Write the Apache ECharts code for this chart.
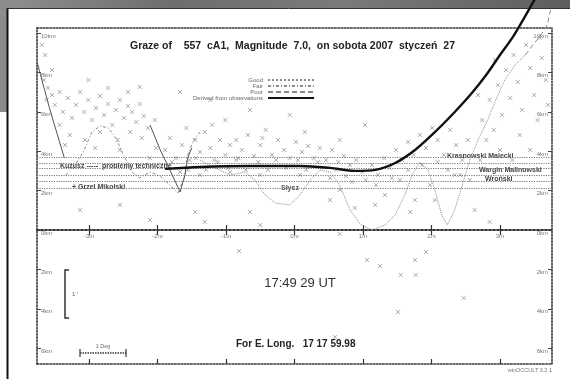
<!DOCTYPE html>
<html><head><meta charset="utf-8">
<script src="https://cdn.jsdelivr.net/npm/echarts@6/dist/echarts.min.js"></script>
<style>html,body{margin:0;padding:0;background:#fff}#c{width:570px;height:379px}</style>
</head><body><div id="c"></div>
<script>
// time axis (minutes from central time) and km scale
const timeTicks = [-3, -2, -1, 0, 1, 2, 3];
const timeTickLabels = ['-3m', '-2m', '-1m', '0m', '1m', '2m', '3m'];
const kmTicks = [10, 8, 6, 4, 2, 0, -2, -4, -6];
const kmTickLabels = ['10km', '8km', '6km', '4km', '2km', '0km', '2km', '4km', '6km'];

// observer limit lines (km)
const limitHeights = [3.7, 3.4, 3.15, 2.8, 2.45, 2.1];

// observed / predicted events [minutes, km]
const observedPoints = [
  [-3.66,7.61],[-3.60,7.21],[-3.54,6.85],[-3.62,6.60],[-3.50,6.35],[-3.43,7.0],[-3.38,5.99],[-3.31,6.70],
  [-3.25,5.69],[-3.19,6.35],[-3.13,7.0],[-3.07,5.99],[-3.01,6.60],[-2.96,5.58],[-2.90,6.19],[-2.84,6.80],
  [-2.78,5.84],[-2.72,6.40],[-2.66,5.33],[-2.61,6.09],[-2.55,6.60],[-2.49,5.69],[-2.43,6.29],[-2.37,5.99],
  [-2.31,5.48],[-2.26,6.40],[-2.20,5.79],[-2.14,5.18],[-3.43,5.33],[-3.28,4.82],[-3.06,4.57],[-2.84,4.97],
  [-2.58,4.57],[-2.40,4.97],[-2.23,4.67],[-2.04,5.58],[-3.54,8.12],[-3.69,9.39],[-3.64,8.88],[-2.26,7.26],
  [-2.02,4.16],[-2.11,3.65],[-2.55,4.06],[-2.91,4.16],[-3.35,4.31],[-2.72,7.21],[-3.01,7.61],[-2.43,7.0],
  [-1.89,4.06],[-1.82,4.67],[-1.73,3.65],[-1.64,4.31],[-1.58,5.18],[-1.53,3.55],[-1.45,4.57],[-1.38,3.96],
  [-1.31,4.97],[-1.23,4.16],[-1.17,3.55],[-1.09,4.57],[-1.01,3.81],[-0.94,4.31],[-0.85,3.55],[-0.77,4.06],
  [-0.68,4.82],[-0.59,3.76],[-0.50,4.31],[-0.42,5.08],[-0.33,3.81],[-0.24,4.57],[-0.15,4.06],[-0.07,3.65],
  [0.02,4.47],[0.11,3.96],[0.20,4.26],[0.28,3.65],[0.37,4.16],[0.46,3.55],[0.55,4.06],[0.64,3.45],
  [0.72,3.76],[0.81,3.30],[0.90,3.55],[0.99,2.94],[-1.67,2.94],[-1.38,2.79],[-0.94,2.94],[-0.50,2.79],
  [0.08,2.79],[0.52,2.64],[0.84,2.44],[0.66,2.03],[-1.01,5.58],[-0.07,5.84],[-0.65,6.09],[-1.23,6.60],
  [-1.67,7.0],[1.03,5.33],
  [-1.79,3.45],[-1.55,3.05],[-1.44,3.65],[-1.29,3.05],[-1.12,3.45],[-0.97,3.15],[-0.82,3.65],[-0.71,3.05],
  [-0.53,3.45],[-0.39,3.05],[-0.27,3.55],[-0.12,3.15],[0.05,3.55],[0.17,3.05],[0.34,3.45],[0.61,3.05],
  [0.75,2.74],[1.04,2.54],[1.19,2.28],[1.42,2.64],[1.66,3.05],[1.86,3.30],[2.09,3.45],[2.24,3.05],
  [2.42,2.79],[-1.20,5.33],[-0.85,4.57],[-0.47,4.67],[0.15,4.97],[0.66,4.57],
  [1.13,3.30],[1.22,2.79],[1.31,3.65],[1.39,3.15],[1.48,4.06],[1.57,3.55],[1.66,4.47],[1.74,3.81],
  [1.83,4.82],[1.92,4.16],[2.01,5.18],[2.09,4.57],[2.18,3.81],[2.27,5.08],[2.36,4.31],[2.45,3.55],
  [2.53,4.57],[1.54,2.54],[1.98,2.28],[2.34,2.79],[2.56,2.54],[1.32,1.78],[1.76,1.52],
  [2.74,5.58],[2.80,4.57],[2.85,6.60],[2.91,5.08],[2.97,7.36],[3.03,5.84],[3.09,8.12],[3.15,6.70],
  [3.20,8.88],[3.26,7.51],[3.32,6.09],[3.38,9.39],[3.44,8.22],[3.50,6.85],[3.55,5.58],[3.61,8.73],
  [3.67,7.61],[3.70,6.35],[3.29,4.82],[3.0,4.06],[2.71,3.55],[3.18,3.55],[3.44,4.06],[3.58,9.75],
  [2.93,8.63],[2.68,6.85],
  [-3.13,1.02],[-2.55,1.27],[-1.45,0.91],[-1.31,0.41],[-0.65,0.91],[0.52,1.52],[0.88,1.12],[1.18,1.27],
  [1.69,0.91],[2.05,1.52],[2.63,1.02],[2.85,0.41],[-0.50,0.25],[-2.11,0.51],
  [-0.81,-1.07],[1.06,-1.52],[1.25,-1.83],[1.76,-1.52],[1.92,-1.12],[1.55,-2.28],[1.77,-2.28],[2.47,-3.45],
  [1.51,-4.16],[0.59,-5.43],[0.66,-0.20]
];

// profile derived from observations [minutes, km]
const derivedProfile = [
  [-1.89,3.10],[-1.38,3.20],[-0.65,3.25],[0.08,3.25],[0.52,3.15],[0.88,3.0],[1.18,3.05],[1.47,3.40],
  [1.76,4.06],[2.05,4.97],[2.34,5.99],[2.59,6.95],[2.82,7.97],[3.0,8.88],[3.18,9.75],[3.32,10.56],[3.47,11.47],[3.55,11.95]
];

// lunar limb profile lines [minutes, km]
const goodProfile = [
  [-1.38,3.55],[-1.16,3.15],[-0.94,2.79],[-0.72,2.94],[-0.58,2.54],[-0.43,1.78],[-0.28,1.37],[-0.07,1.27],
  [0.08,1.78],[0.23,2.54],[0.37,3.05],[0.52,2.94],[0.66,2.28],[0.81,1.02],[0.96,0.30],[1.13,0.0],
  [1.32,0.25],[1.47,0.76],[1.61,1.78],[1.72,2.79],[1.83,3.45],[1.95,3.05],[2.05,2.03],[2.15,0.76],
  [2.23,0.25],[2.34,1.02],[2.45,2.28],[2.56,3.55],[2.68,4.57],[2.82,5.58],[2.94,6.60],[3.07,7.61],
  [3.22,8.38],[3.37,8.88]
];
const fairProfile = [
  [-3.34,2.79],[-3.20,3.30],[-3.07,4.06],[-2.96,4.97],[-2.84,5.28],[-2.72,5.18],[-2.61,4.67],[-2.49,3.76],
  [-2.37,2.94],[-2.26,2.64],[-2.11,2.94],[-1.96,2.74],[-1.82,2.28],[-1.70,1.88],[-1.61,2.64],[-1.56,3.81],
  [-1.47,4.57],[-1.38,4.97]
];
const poorProfile = [[3.37,8.88],[3.48,9.39],[3.60,9.90],[3.69,10.41],[3.74,11.17]];
const limbLeft = [[-3.76,8.53],[-3.57,6.09],[-3.36,3.65]];
const limbDip = [[-2.11,5.33],[-1.96,4.06],[-1.82,3.05],[-1.67,1.93],[-1.60,2.79],[-1.56,3.65],[-1.50,4.16]];

const legendNames = ['Good', 'Fair', 'Poor', 'Derived from observations'];

const X0 = -3.76, X1 = 3.76, YTOP = 10.25, YBOT = -6.8;
const kmFmt = v => { const i = kmTicks.indexOf(v); return i >= 0 ? kmTickLabels[i] : ''; };
const tFmt = v => { const i = timeTicks.indexOf(v); return i >= 0 ? timeTickLabels[i] : ''; };
const upperKm = kmTicks.filter(v => v >= 0);
const lowerKm = kmTicks.filter(v => v < 0);
const upperPoints = observedPoints.filter(p => p[1] >= 0);
const lowerPoints = observedPoints.filter(p => p[1] < 0);

const frameLine = { show: true, onZero: false, lineStyle: { color: '#3a3a3a', width: 1.6, type: 'dotted' } };
const tickStyle = { color: '#333', width: 1.2 };
const none = { show: false };
function yAx(grid, pos, min, max, ticks) {
  return { type: 'value', gridIndex: grid, position: pos, min: min, max: max, axisLine: frameLine,
    axisTick: { show: true, inside: true, length: 4, customValues: ticks, lineStyle: { color: '#444' } },
    axisLabel: { show: true, inside: true, customValues: ticks, formatter: kmFmt, fontSize: 6, color: '#777',
      verticalAlign: 'top', margin: 4, fontFamily: 'Liberation Sans' },
    splitLine: none };
}

const chart = echarts.init(document.getElementById('c'), null, { renderer: 'canvas', width: 570, height: 379 });
const option = {
  animation: false,
  backgroundColor: '#ffffff',
  grid: [
    { left: 37, right: 18, top: 28, height: 202, show: false },
    { left: 37, right: 18, top: 230, height: 134, show: false }
  ],
  legend: {
    data: legendNames, orient: 'vertical', left: 188, top: 72, align: 'right',
    itemWidth: 46, itemHeight: 6, itemGap: 0, selectedMode: false,
    itemStyle: { opacity: 0, color: 'rgba(0,0,0,0)', borderWidth: 0 },
    textStyle: { fontSize: 6, color: '#666', width: 100, align: 'right', fontFamily: 'Liberation Sans' }
  },
  xAxis: [
    { type: 'value', gridIndex: 0, min: X0, max: X1, position: 'bottom',
      axisLine: { show: true, onZero: false, lineStyle: { color: '#333', width: 2, type: 'dotted' } },
      axisTick: { show: true, inside: false, length: 5, customValues: timeTicks, lineStyle: tickStyle },
      axisLabel: { show: true, customValues: timeTicks, formatter: tFmt, fontSize: 6, color: '#777', margin: 3, fontFamily: 'Liberation Sans' },
      splitLine: none },
    { type: 'value', gridIndex: 0, min: X0, max: X1, position: 'top', axisLine: frameLine,
      axisTick: none, axisLabel: none, splitLine: none },
    { type: 'value', gridIndex: 1, min: X0, max: X1, position: 'top',
      axisLine: { show: false, onZero: false },
      axisTick: { show: true, inside: false, length: 5, customValues: timeTicks, lineStyle: tickStyle },
      axisLabel: none, splitLine: none },
    { type: 'value', gridIndex: 1, min: X0, max: X1, position: 'bottom', axisLine: frameLine,
      axisTick: { show: true, inside: true, length: 5, customValues: timeTicks, lineStyle: tickStyle },
      axisLabel: none, splitLine: none }
  ],
  yAxis: [
    yAx(0, 'left', 0, YTOP, upperKm),
    yAx(0, 'right', 0, YTOP, upperKm),
    yAx(1, 'left', YBOT, 0, lowerKm),
    yAx(1, 'right', YBOT, 0, lowerKm)
  ],
  series: [
    { type: 'scatter', name: 'events', xAxisIndex: 0, yAxisIndex: 0, data: upperPoints,
      symbol: 'path://M0,0L10,10M10,0L0,10', symbolSize: 4,
      itemStyle: { color: 'none', borderColor: '#8c8c8c', borderWidth: 0.9 }, silent: true, z: 2,
      markLine: { silent: true, symbol: 'none', label: { show: false },
        lineStyle: { color: '#7a7a7a', type: 'dotted', width: 1.2 },
        data: limitHeights.map(h => ({ yAxis: h })) } },
    { type: 'scatter', name: 'events', xAxisIndex: 2, yAxisIndex: 2, data: lowerPoints,
      symbol: 'path://M0,0L10,10M10,0L0,10', symbolSize: 4,
      itemStyle: { color: 'none', borderColor: '#8c8c8c', borderWidth: 0.9 }, silent: true, z: 2 },
    { type: 'line', name: 'Good', data: goodProfile, symbol: 'none', clip: false,
      itemStyle: { color: 'rgba(0,0,0,0)' },
      lineStyle: { color: '#8a8a8a', width: 1, type: 'dotted' }, z: 3 },
    { type: 'line', name: 'Fair', data: fairProfile, symbol: 'none', clip: false,
      itemStyle: { color: 'rgba(0,0,0,0)' },
      lineStyle: { color: '#8a8a8a', width: 1, type: [3, 2, 1, 2] }, z: 3 },
    { type: 'line', name: 'Poor', data: poorProfile, symbol: 'none', clip: false,
      itemStyle: { color: 'rgba(0,0,0,0)' },
      lineStyle: { color: '#8a8a8a', width: 1, type: [5, 3] }, z: 3 },
    { type: 'line', name: 'limbLeft', data: limbLeft, symbol: 'none',
      lineStyle: { color: '#555', width: 1 }, z: 3 },
    { type: 'line', name: 'limbDip', data: limbDip, symbol: 'none',
      lineStyle: { color: '#555', width: 1 }, z: 3 },
    { type: 'line', name: 'Derived from observations', data: derivedProfile, symbol: 'none', clip: false, smooth: 0.3,
      itemStyle: { color: 'rgba(0,0,0,0)' },
      lineStyle: { color: '#111', width: 2.4 }, z: 5 }
  ],
  graphic: [
    { type: 'rect', silent: true, z: -10, shape: { x: 0, y: 0, width: 570, height: 8 },
      style: { fill: new echarts.graphic.LinearGradient(0, 0, 1, 0, [
        { offset: 0, color: '#8f8f8f' }, { offset: 0.3, color: '#6e6e6e' }, { offset: 0.6, color: '#7a7a7a' }, { offset: 1, color: '#5e5e5e' }]) } },
    { type: 'rect', silent: true, z: -10, shape: { x: 0, y: 0, width: 7, height: 112 }, style: { fill: '#8c8c8c' } },
    { type: 'line', silent: true, shape: { x1: 7.5, y1: 8, x2: 7.5, y2: 379 }, style: { stroke: '#111', lineWidth: 2 } },
    { type: 'line', silent: true, shape: { x1: 7, y1: 8.5, x2: 570, y2: 8.5 }, style: { stroke: '#333', lineWidth: 1 } },
    { type: 'text', silent: true, x: 130, y: 46, style: { text: 'Graze of    557  cA1,  Magnitude  7.0,  on sobota 2007  styczeń  27',
      font: 'bold 10.5px "Liberation Sans", Arial, sans-serif', fill: '#222', align: 'left', verticalAlign: 'middle' } },
    { type: 'text', silent: true, x: 60, y: 166, style: { text: 'Kuzusz -----', font: 'bold 7px "Liberation Sans"', fill: '#444', verticalAlign: 'middle' } },
    { type: 'text', silent: true, x: 102, y: 166, style: { text: 'problemy techniczne', font: 'bold 7px "Liberation Sans"', fill: '#444', verticalAlign: 'middle' } },
    { type: 'text', silent: true, x: 72, y: 187, style: { text: '+ Grzel Mikolski', font: 'bold 7px "Liberation Sans"', fill: '#444', verticalAlign: 'middle' } },
    { type: 'text', silent: true, x: 281, y: 188, style: { text: 'Słysz', font: 'bold 7px "Liberation Sans"', fill: '#555', verticalAlign: 'middle' } },
    { type: 'text', silent: true, x: 447, y: 156, style: { text: 'Krasnowski Malecki', font: 'bold 7px "Liberation Sans"', fill: '#444', verticalAlign: 'middle' } },
    { type: 'text', silent: true, x: 479, y: 170, style: { text: 'Wargin Malinowski', font: 'bold 7px "Liberation Sans"', fill: '#444', verticalAlign: 'middle' } },
    { type: 'text', silent: true, x: 485, y: 179, style: { text: 'Wroński', font: 'bold 7px "Liberation Sans"', fill: '#444', verticalAlign: 'middle' } },
    { type: 'polyline', silent: true, shape: { points: [[69, 270], [65, 270], [65, 318], [69, 318]] }, style: { stroke: '#333', lineWidth: 1.5, fill: 'none' } },
    { type: 'text', silent: true, x: 72, y: 294, style: { text: "1 '", font: '6px "Liberation Sans"', fill: '#666', verticalAlign: 'middle' } },
    { type: 'line', silent: true, shape: { x1: 80, y1: 353, x2: 126, y2: 353 }, style: { stroke: '#333', lineWidth: 1.5, lineDash: [1.5, 1] } },
    { type: 'line', silent: true, shape: { x1: 80, y1: 349, x2: 80, y2: 357 }, style: { stroke: '#333', lineWidth: 1.2 } },
    { type: 'line', silent: true, shape: { x1: 126, y1: 349, x2: 126, y2: 357 }, style: { stroke: '#333', lineWidth: 1.2 } },
    { type: 'text', silent: true, x: 103, y: 346, style: { text: '1 Deg', font: '5.5px "Liberation Sans"', fill: '#666', align: 'center', verticalAlign: 'middle' } },
    { type: 'text', silent: true, x: 300, y: 283, style: { text: '17:49 29 UT', font: '13px "Liberation Sans", Arial', fill: '#333', align: 'center', verticalAlign: 'middle' } },
    { type: 'text', silent: true, x: 236, y: 344, style: { text: 'For E. Long.   17 17 59.98', font: 'bold 10px "Liberation Sans", Arial', fill: '#222', align: 'left', verticalAlign: 'middle' } },
    { type: 'text', silent: true, x: 552, y: 370, style: { text: 'winOCCULT 3.2.1', font: '5.5px "Liberation Sans"', fill: '#777', align: 'right', verticalAlign: 'middle' } }
  ]
};
chart.setOption(option);
</script>
</body></html>
